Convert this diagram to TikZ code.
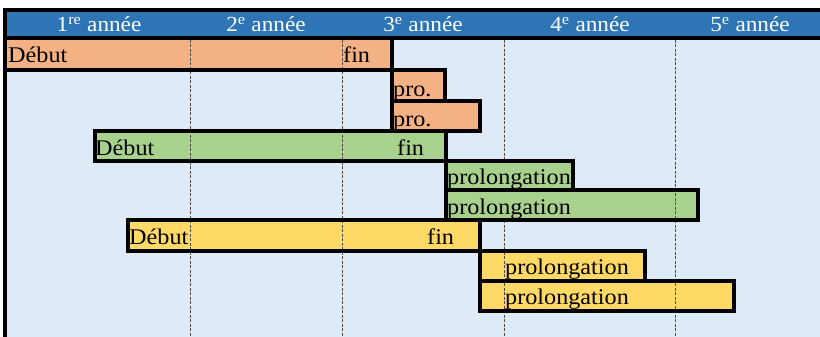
\documentclass[tikz,border=0pt]{standalone}
\usepackage{fontspec}
\setmainfont{Liberation Serif}[FakeStretch=1.08]
\definecolor{hdr}{HTML}{2E75B6}
\definecolor{bgc}{HTML}{DEEBF7}
\definecolor{org}{HTML}{F4B183}
\definecolor{grn}{HTML}{A9D18E}
\definecolor{ylw}{HTML}{FFD966}
\begin{document}
\begin{tikzpicture}[x=1pt,y=-1pt,
  barline/.style={line width=3.8pt, draw=black},
  gridline/.style={line width=0.9pt, draw=black!70, dash pattern=on 3pt off 1.5pt},
  lbl/.style={anchor=base west, inner sep=0pt, font=\fontsize{22.4}{25}\selectfont},
  yr/.style={anchor=base, inner sep=0pt, text=white, font=\fontsize{21.5}{24}\selectfont}]
\useasboundingbox (0,0) rectangle (820,337);
\fill[white] (0,0) rectangle (820,337);
\fill[bgc] (5,38) rectangle (820,337);
\fill[hdr] (5,10) rectangle (820,38);
% bar fills
\foreach \a/\b/\c/\d/\col in {5/38/392/70/org, 392/70/445/101/org, 392/101/480/131/org,
  95/131/446/161/grn, 446/161/573/190/grn, 446/190/698/220/grn,
  128/220/480/251/ylw, 480/251/645/281/ylw, 480/281/734/311/ylw}
  \fill[\col] (\a,\b) rectangle (\c,\d);
% dashed year separators
\draw[gridline] (190,40) -- (190,337);
\draw[gridline] (342,40) -- (342,337);
\draw[gridline] (504,40) -- (504,161);
\draw[gridline] (504,220) -- (504,337);
\draw[gridline] (675,40) -- (675,337);
% bar outlines
\foreach \a/\b/\c/\d in {5/38/392/70, 392/70/445/101, 392/101/480/131,
  95/131/446/161, 446/161/573/190, 446/190/698/220,
  128/220/480/251, 480/251/645/281, 480/281/734/311}
  \draw[barline] (\a,\b) rectangle (\c,\d);
% header frame
\draw[line width=4pt] (3,10) -- (820,10);
\draw[line width=4pt] (5,38) -- (820,38);
\draw[line width=4pt] (5,8) -- (5,337);
% header labels
\node[yr] (y1) at (99,32) {1\textsuperscript{re} année};
\node[yr] (y2) at (266,32) {2\textsuperscript{e} année};
\node[yr] (y3) at (423,32) {3\textsuperscript{e} année};
\node[yr] (y4) at (590,32) {4\textsuperscript{e} année};
\node[yr] (y5) at (750,32) {5\textsuperscript{e} année};
% bar labels
\node[lbl] (d1) at (8,63) {Début};
\node[lbl] (f1) at (343,63) {fin};
\node[lbl] (p2) at (393,96) {pro.};
\node[lbl] (p3) at (393,126) {pro.};
\node[lbl] (d4) at (95,155) {Début};
\node[lbl] (f4) at (397,155) {fin};
\node[lbl] (p5) at (447,184) {prolongation};
\node[lbl] (p6) at (447,214) {prolongation};
\node[lbl] (d7) at (129,244) {Début};
\node[lbl] (f7) at (427,244) {fin};
\node[lbl] (p8) at (505,274) {prolongation};
\node[lbl] (p9) at (505,304) {prolongation};
\end{tikzpicture}
\end{document}
